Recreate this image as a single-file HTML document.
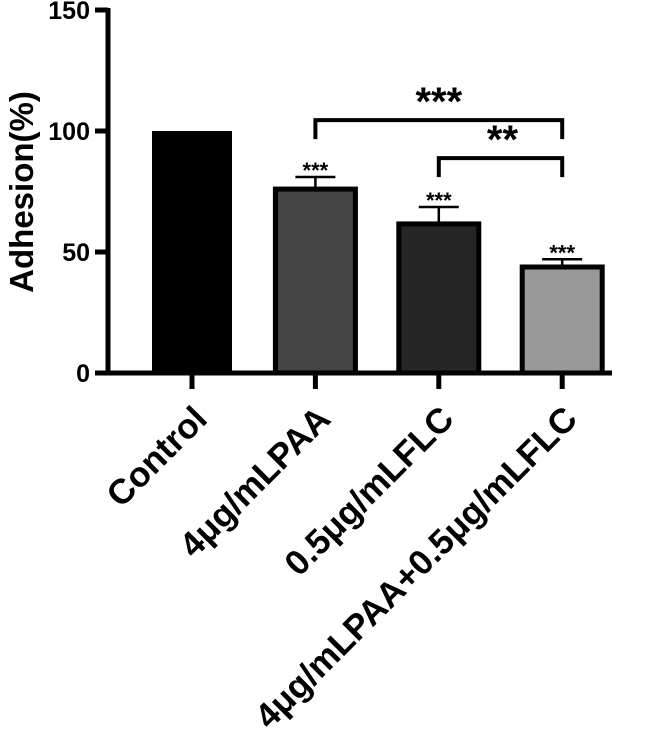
<!DOCTYPE html>
<html><head><meta charset="utf-8"><style>body{margin:0;background:#fff}svg{display:block;font-family:"Liberation Sans",Arial,sans-serif}</style></head>
<body>
<svg id="chart" width="666" height="731" viewBox="0 0 666 731" xmlns="http://www.w3.org/2000/svg"></svg>
<script>
const categories = ["Control","4μg/mLPAA","0.5μg/mLFLC","4μg/mLPAA+0.5μg/mLFLC"];
const values = [100, 76, 61.6, 43.8];
const errors = [0, 5, 7, 3.2];
const sigLabels = ["", "***", "***", "***"];
const fills = ["#000","#444","#262626","#999"];
const yTicks = [0, 50, 100, 150];
const brackets = [{from:1,to:3,label:"***",level:104.5},{from:2,to:3,label:"**",level:88.8}];

const svg = document.getElementById('chart');
const NS = "http://www.w3.org/2000/svg";
const y0 = 373, yTop = 10, yMax = 150;
const Y = v => y0 - v*(y0-yTop)/yMax;
const X = i => 192 + i*123.4;
const bw = 80;
function mk(tag, attrs, parent){const e=document.createElementNS(NS,tag);for(const k in attrs)e.setAttribute(k,attrs[k]);(parent||svg).appendChild(e);return e;}

categories.forEach((c,i)=>{
  const top=Y(values[i]);
  const r=mk('rect',{x:X(i)-bw/2,y:top,width:bw,height:y0-top,fill:fills[i],stroke:'#000','stroke-width':i===0?0:5});
  
  
  if(errors[i]>0){
    const et=Y(values[i]+errors[i]);
    const g=mk('g',{stroke:'#000','stroke-width':2.5});
    
    
    mk('line',{x1:X(i),x2:X(i),y1:et,y2:top},g);
    mk('line',{x1:X(i)-20,x2:X(i)+20,y1:et,y2:et},g);
    const t=mk('text',{x:X(i),y:et+1,'text-anchor':'middle','font-size':22,'font-weight':'bold'});
    t.textContent=sigLabels[i];
    
    
  }
  const tk=mk('line',{x1:X(i),x2:X(i),y1:y0,y2:389,stroke:'#000','stroke-width':5});
  
  
  const lx=X(i)+17, ly=421;
  const lt=mk('text',{x:lx,y:ly,'text-anchor':'end','font-size':35,'font-weight':'bold',transform:`rotate(-45 ${lx} ${ly})`});
  lt.textContent=c;
  
  
});

brackets.forEach(b=>{
  const yb=Y(b.level), x1=X(b.from), x2=X(b.to);
  const p=mk('path',{d:`M${x1} ${yb+19}V${yb}H${x2}V${yb+19}`,fill:'none',stroke:'#000','stroke-width':4});
  
  
  const cx=b.label==="**"?(x1+x2)/2+2:(x1+x2)/2;
  const t=mk('text',{x:cx,y:yb-5,'text-anchor':'middle','font-size':40,'font-weight':'bold'});
  t.textContent=b.label;
  
  
});

const ax=mk('path',{d:`M108 ${yTop-2}V${y0}H612`,fill:'none',stroke:'#000','stroke-width':5});


yTicks.forEach(v=>{
  const l=mk('line',{x1:95,x2:108,y1:Y(v),y2:Y(v),stroke:'#000','stroke-width':5});
  
  
  const t=mk('text',{x:90,y:Y(v)+9,'text-anchor':'end','font-size':25,'font-weight':'bold'});
  t.textContent=v;
  
  
});
const yt=mk('text',{x:33,y:192,'text-anchor':'middle','font-size':33,'font-weight':'bold',transform:'rotate(-90 33 192)'});
yt.textContent='Adhesion(%)';


</script>
</body></html>
